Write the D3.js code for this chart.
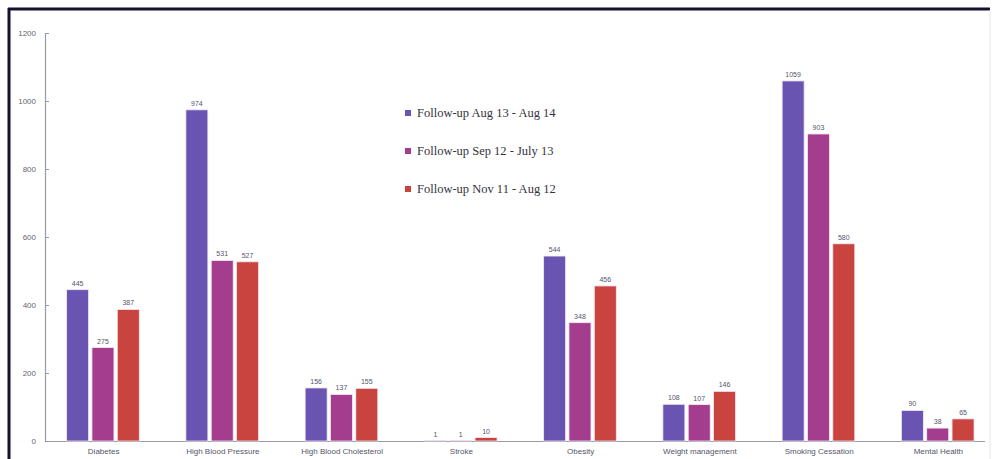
<!DOCTYPE html>
<html>
<head>
<meta charset="utf-8">
<script src="https://cdn.jsdelivr.net/npm/d3@7"></script>
<style>
  html, body { margin: 0; padding: 0; background: #fff; }
  svg { display: block; }
</style>
</head>
<body>
<div id="chart"></div>
<script>
// Grouped bar chart: three follow-up periods per health topic

const categories = ['Diabetes', 'High Blood Pressure', 'High Blood Cholesterol', 'Stroke',
    'Obesity', 'Weight management', 'Smoking Cessation', 'Mental Health'];
const seriesNames = ['Follow-up Aug 13 - Aug 14', 'Follow-up Sep 12 - July 13', 'Follow-up Nov 11 - Aug 12'];
const augValues = [445, 974, 156, 1, 544, 108, 1059, 90];
const sepValues = [275, 531, 137, 1, 348, 107, 903, 38];
const novValues = [387, 527, 155, 10, 456, 146, 580, 65];
const yTicks = [0, 200, 400, 600, 800, 1000, 1200];

const COLORS = ['#6a54b2', '#a53d8e', '#c9433f'];

const width = 993, height = 459;
const x0 = 44, x1 = 998, yBase = 441, yTop = 33;

const svg = d3.select('#chart').append('svg')
    .attr('width', width)
    .attr('height', height);

// screenshot-like frame
svg.append('rect').attr('x', 0).attr('y', 0).attr('width', width).attr('height', height).attr('fill', '#fff');
svg.append('line').attr('x1', 8).attr('x2', 990).attr('y1', 9).attr('y2', 9)
    .attr('stroke', '#14122e').attr('stroke-width', 3);
svg.append('line').attr('x1', 9).attr('x2', 9).attr('y1', 8).attr('y2', height)
    .attr('stroke', '#14122e').attr('stroke-width', 3);
svg.append('line').attr('x1', 990).attr('x2', 990).attr('y1', 10).attr('y2', height)
    .attr('stroke', '#e4e4ea').attr('stroke-width', 1);

const y = d3.scaleLinear().domain([0, 1200]).range([yBase, yTop]);

const xBand = d3.scaleBand().domain(categories).range([x0, x1]).paddingInner(0).paddingOuter(0);
const inner = d3.scaleBand().domain([0, 1, 2]).range([0, 76]);
const barW = 22;

// y axis
const yAxis = svg.append('g')
    .attr('transform', `translate(${45},0)`)
    .call(d3.axisRight(y).tickValues(yTicks).tickSize(4).tickFormat(''));
yAxis.select('.domain').attr('stroke', '#9a9aa6').attr('stroke-width', 1.2);
yAxis.selectAll('.tick line').attr('stroke', '#9a9aa6');

svg.append('g').selectAll('text')
    .data(yTicks)
    .join('text')
    .attr('x', 36)
    .attr('y', d => y(d))
    .attr('dy', '0.35em')
    .attr('text-anchor', 'end')
    .attr('fill', '#666670')
    .attr('font-family', 'Liberation Sans, Arial, sans-serif')
    .attr('font-size', '8px')
    .text(d => d);

// x axis line
svg.append('line')
    .attr('x1', 45).attr('x2', 985)
    .attr('y1', yBase + 0.5).attr('y2', yBase + 0.5)
    .attr('stroke', '#9a9aa6').attr('stroke-width', 1.2);

// bars
const rows = categories.map((c, i) => ({ cat: c, vals: [augValues[i], sepValues[i], novValues[i]] }));

const groups = svg.append('g').selectAll('g')
    .data(rows)
    .join('g')
    .attr('transform', d => `translate(${xBand(d.cat) + xBand.bandwidth() / 2 - 37},0)`);

groups.selectAll('rect')
    .data(d => d.vals.map((v, k) => ({ v, k })))
    .join('rect')
    .attr('x', d => inner(d.k))
    .attr('y', d => y(d.v))
    .attr('width', barW)
    .attr('height', d => yBase - y(d.v))
    .attr('fill', d => COLORS[d.k])
    .attr('stroke', '#f3e8f3')
    .attr('stroke-width', 0.8);

groups.selectAll('text.val')
    .data(d => d.vals.map((v, k) => ({ v, k })))
    .join('text')
    .attr('class', 'val')
    .attr('x', d => inner(d.k) + barW / 2)
    .attr('y', d => y(d.v) - 4)
    .attr('text-anchor', 'middle')
    .attr('fill', '#55556a')
    .attr('font-family', 'Liberation Sans, Arial, sans-serif')
    .attr('font-size', '7px')
    .text(d => d.v);

// category labels
svg.append('g').selectAll('text')
    .data(categories)
    .join('text')
    .attr('x', d => xBand(d) + xBand.bandwidth() / 2)
    .attr('y', 454)
    .attr('text-anchor', 'middle')
    .attr('fill', '#55556a')
    .attr('font-family', 'Liberation Sans, Arial, sans-serif')
    .attr('font-size', '8px')
    .text(d => d);

// legend
const legend = svg.append('g').attr('transform', 'translate(405,113)');
const li = legend.selectAll('g')
    .data(seriesNames)
    .join('g')
    .attr('transform', (d, i) => `translate(0,${i * 38})`);
li.append('rect')
    .attr('x', 0).attr('y', -3).attr('width', 6).attr('height', 6)
    .attr('fill', (d, i) => COLORS[i]);
li.append('text')
    .attr('x', 12)
    .attr('dy', '0.35em')
    .attr('fill', '#333340')
    .attr('font-family', 'Liberation Serif, Times New Roman, serif')
    .attr('font-size', '12.5px')
    .text(d => d);
</script>
</body>
</html>
